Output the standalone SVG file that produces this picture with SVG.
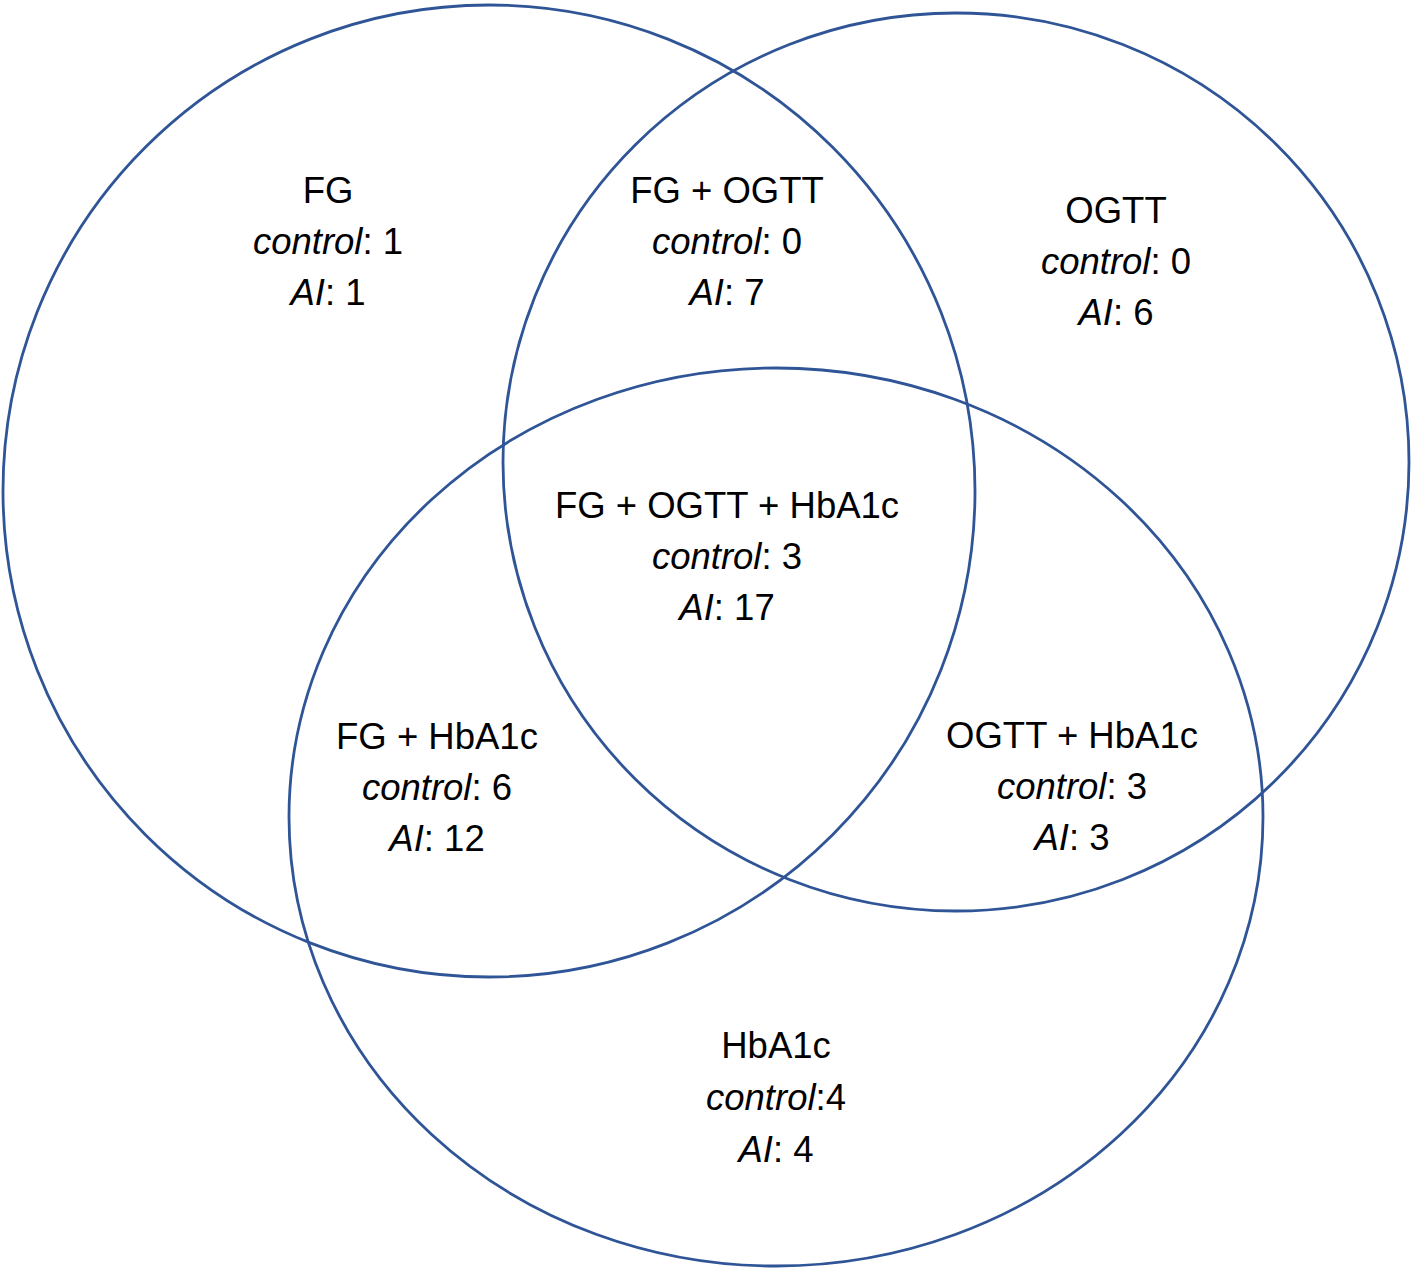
<svg xmlns="http://www.w3.org/2000/svg" width="1417" height="1272" viewBox="0 0 1417 1272">
<style>
.c{fill:none;stroke:#2F5597;stroke-width:2.8}
text{font-family:"Liberation Sans",Arial,sans-serif;font-size:36.5px;fill:#000;text-anchor:middle}
.i{font-style:italic}
</style>
<rect width="1417" height="1272" fill="#fff"/>
<g id="connectors"></g>
<g id="set-FG"><ellipse class="c" cx="489" cy="491" rx="486" ry="486"/></g>
<g id="set-OGTT"><ellipse class="c" cx="956" cy="462" rx="453" ry="449"/></g>
<g id="set-HbA1c"><ellipse class="c" cx="776" cy="817" rx="487" ry="449"/></g>
<g id="label-FG">
<text x="328" y="203">FG</text>
<text x="328" y="254"><tspan class="i">control</tspan>: 1</text>
<text x="328" y="305"><tspan class="i">AI</tspan>: 1</text>
</g>
<g id="label-FG-OGTT">
<text x="727" y="203">FG + OGTT</text>
<text x="727" y="254"><tspan class="i">control</tspan>: 0</text>
<text x="727" y="305"><tspan class="i">AI</tspan>: 7</text>
</g>
<g id="label-OGTT">
<text x="1116" y="223">OGTT</text>
<text x="1116" y="274"><tspan class="i">control</tspan>: 0</text>
<text x="1116" y="325"><tspan class="i">AI</tspan>: 6</text>
</g>
<g id="label-all">
<text x="727" y="518">FG + OGTT + HbA1c</text>
<text x="727" y="569"><tspan class="i">control</tspan>: 3</text>
<text x="727" y="620"><tspan class="i">AI</tspan>: 17</text>
</g>
<g id="label-FG-HbA1c">
<text x="437" y="749">FG + HbA1c</text>
<text x="437" y="800"><tspan class="i">control</tspan>: 6</text>
<text x="437" y="851"><tspan class="i">AI</tspan>: 12</text>
</g>
<g id="label-OGTT-HbA1c">
<text x="1072" y="748">OGTT + HbA1c</text>
<text x="1072" y="799"><tspan class="i">control</tspan>: 3</text>
<text x="1072" y="850"><tspan class="i">AI</tspan>: 3</text>
</g>
<g id="label-HbA1c">
<text x="776" y="1058">HbA1c</text>
<text x="776" y="1110"><tspan class="i">control</tspan>:4</text>
<text x="776" y="1162"><tspan class="i">AI</tspan>: 4</text>
</g>
</svg>
